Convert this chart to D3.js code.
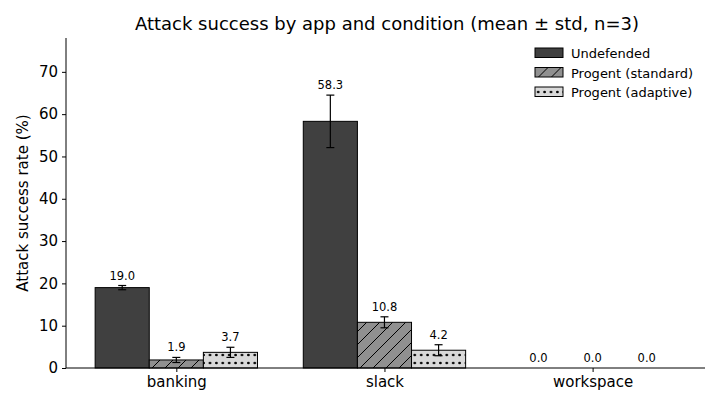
<!DOCTYPE html>
<html>
<head>
<meta charset="utf-8">
<script src="https://cdn.jsdelivr.net/npm/d3@7"></script>
<style>
  body { margin: 0; background: #fff; }
  svg { font-family: "DejaVu Sans", sans-serif; }
</style>
</head>
<body>
<svg id="chart" width="720" height="409"></svg>
<script>
// -- data -- //
const apps = ['banking', 'slack', 'workspace'];
const conditions = ['Undefended', 'Progent (standard)', 'Progent (adaptive)'];
const means = [
  [19.0, 1.9, 3.7],
  [58.3, 10.8, 4.2],
  [0.0, 0.0, 0.0]
];
const stds = [
  [0.5, 0.6, 1.2],
  [6.2, 1.3, 1.3],
  [0.0, 0.0, 0.0]
];
const yTicks = [0, 10, 20, 30, 40, 50, 60, 70];

const fills = ['#404040', '#909090', '#d9d9d9'];

const svg = d3.select('#chart');
const margin = {left: 66, right: 15, top: 38, bottom: 41};
const width = 720 - margin.left - margin.right;
const height = 409 - margin.top - margin.bottom;

// -- patterns -- //
const defs = svg.append('defs');
const hatch = defs.append('pattern')
  .attr('id', 'hatch')
  .attr('patternUnits', 'userSpaceOnUse')
  .attr('width', 13).attr('height', 13);
hatch.append('rect').attr('width', 13).attr('height', 13).attr('fill', fills[1]);
hatch.append('path')
  .attr('d', 'M-1,1 l2,-2 M0,13 l13,-13 M12,14 l2,-2')
  .attr('stroke', '#000').attr('stroke-width', 1);

const dots = defs.append('pattern')
  .attr('id', 'dots')
  .attr('patternUnits', 'userSpaceOnUse')
  .attr('y', 1)
  .attr('width', 6.4).attr('height', 8);
dots.append('rect').attr('width', 6.4).attr('height', 8).attr('fill', fills[2]);
dots.append('circle').attr('cx', 3.2).attr('cy', 4).attr('r', 1.35).attr('fill', '#000');

const fillFor = i => i === 0 ? fills[0] : (i === 1 ? 'url(#hatch)' : 'url(#dots)');

const g = svg.append('g').attr('transform', `translate(${margin.left},${margin.top})`);

// -- scales -- //
const barW = 0.26;
const x = d3.scaleLinear().domain([-0.53, 2.54]).range([0, width]);
const y = d3.scaleLinear().domain([0, 78]).range([height, 0]);

// -- bars -- //
const rows = [];
apps.forEach((a, i) => conditions.forEach((c, j) => {
  rows.push({app: a, i, j, v: means[i][j], s: stds[i][j]});
}));

g.selectAll('.bar')
  .data(rows)
  .enter().append('rect')
  .attr('class', 'bar')
  .attr('x', d => x(d.i + (d.j - 1.5) * barW))
  .attr('width', d => x(barW) - x(0))
  .attr('y', d => y(d.v))
  .attr('height', d => y(0) - y(d.v))
  .attr('fill', d => fillFor(d.j))
  .attr('stroke', '#000')
  .attr('stroke-width', 1);

// -- error bars -- //
const cx = d => x(d.i + (d.j - 1) * barW);
const err = g.selectAll('.err')
  .data(rows.filter(d => d.s > 0))
  .enter().append('g')
  .attr('class', 'err')
  .attr('stroke', '#000')
  .attr('stroke-width', 1.2);
err.append('line')
  .attr('x1', cx).attr('x2', cx)
  .attr('y1', d => y(d.v - d.s)).attr('y2', d => y(d.v + d.s));
err.append('line')
  .attr('x1', d => cx(d) - 4).attr('x2', d => cx(d) + 4)
  .attr('y1', d => y(d.v - d.s)).attr('y2', d => y(d.v - d.s));
err.append('line')
  .attr('x1', d => cx(d) - 4).attr('x2', d => cx(d) + 4)
  .attr('y1', d => y(d.v + d.s)).attr('y2', d => y(d.v + d.s));

// -- value labels -- //
g.selectAll('.val')
  .data(rows)
  .enter().append('text')
  .attr('class', 'val')
  .attr('x', cx)
  .attr('y', d => y(d.v + d.s) - 6)
  .attr('text-anchor', 'middle')
  .attr('font-size', 11.5)
  .attr('fill', '#000')
  .text(d => d.v.toFixed(1));

// -- axes -- //
const yAxis = g.append('g')
  .call(d3.axisLeft(y).tickValues(yTicks).tickSize(4).tickPadding(4));
const xAxis = g.append('g')
  .attr('transform', `translate(0,${height})`)
  .call(d3.axisBottom(x).tickValues([0, 1, 2]).tickFormat(i => apps[i]).tickSize(4).tickPadding(4));
[yAxis, xAxis].forEach(ax => {
  ax.selectAll('text').attr('font-size', 15).attr('fill', '#000').attr('font-family', '"DejaVu Sans", sans-serif');
  ax.selectAll('line').attr('stroke', '#000');
  ax.select('.domain').attr('stroke', '#000').attr('stroke-width', 1);
});
yAxis.select('.domain').attr('d', `M0,0V${height}`);
xAxis.select('.domain').attr('d', `M0,0H${width}`);

// -- labels -- //
svg.append('text')
  .attr('x', 387).attr('y', 30)
  .attr('text-anchor', 'middle')
  .attr('font-size', 18)
  .text('Attack success by app and condition (mean \u00b1 std, n=3)');

svg.append('text')
  .attr('transform', `translate(28,${margin.top + height / 2}) rotate(-90)`)
  .attr('text-anchor', 'middle')
  .attr('font-size', 15)
  .text('Attack success rate (%)');

// -- legend -- //
const legend = svg.append('g').attr('transform', 'translate(535,48)');
const item = legend.selectAll('.item')
  .data(conditions)
  .enter().append('g')
  .attr('transform', (d, i) => `translate(0,${i * 19.5})`);
item.append('rect')
  .attr('width', 28).attr('height', 9.5)
  .attr('fill', (d, i) => fillFor(i))
  .attr('stroke', '#000').attr('stroke-width', 1);
item.append('text')
  .attr('x', 36).attr('y', 10)
  .attr('font-size', 13)
  .text(d => d);
</script>
</body>
</html>
